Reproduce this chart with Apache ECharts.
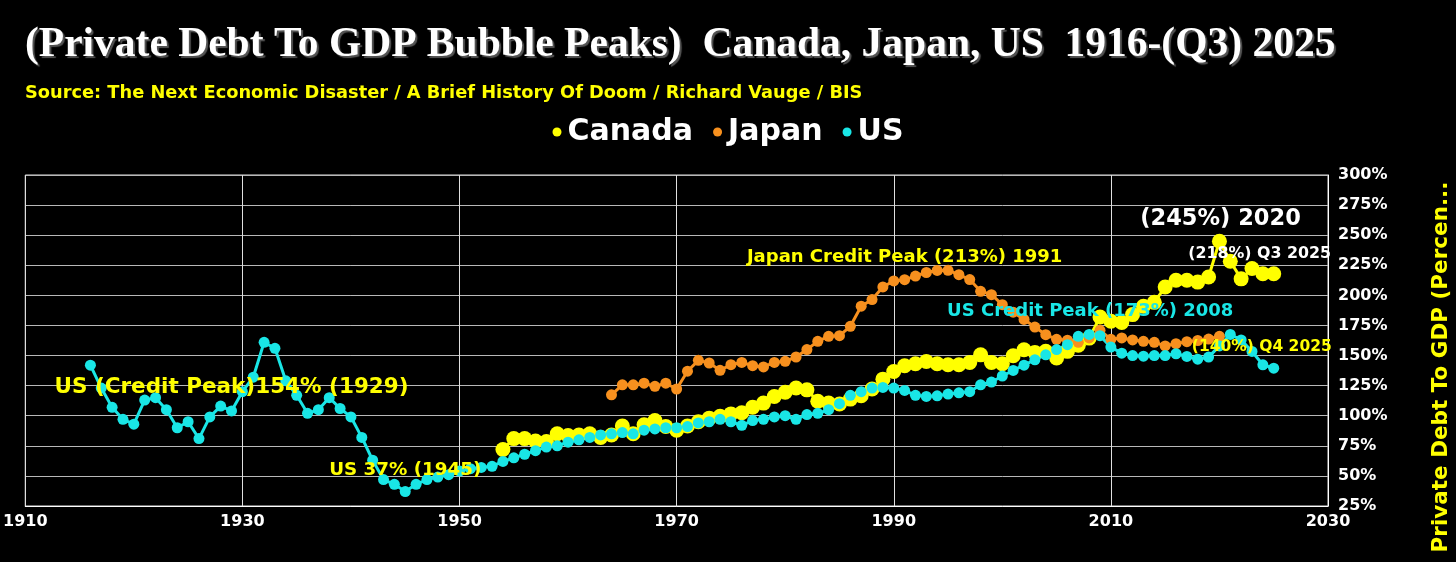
<!DOCTYPE html>
<html>
<head>
<meta charset="utf-8">
<title>Private Debt To GDP Bubble Peaks</title>
<script src="https://cdn.jsdelivr.net/npm/echarts@6/dist/echarts.min.js"></script>
<style>
  html, body { margin: 0; padding: 0; background: #000; }
  #main { width: 1456px; height: 562px; }
</style>
</head>
<body>
<div id="main"></div>
<script>
// 数据 (读自原图, 每年一个点)
var usStart = 1916;
var usValues = [142, 123, 107, 97, 93, 113, 115, 105, 90, 95,
  81, 99, 108, 104, 120, 132, 161, 156, 129, 117,
  102, 105, 115, 106, 99, 82, 63, 47, 43, 37,
  43, 47, 49, 51, 54, 56, 57, 58, 62, 65,
  68, 71, 74, 75, 78, 80, 82, 84, 85, 86,
  85, 88, 89, 90, 90, 91, 94, 95, 97, 95,
  92, 96, 97, 99, 100, 97, 101, 102, 105, 110,
  117, 120, 123, 123.5, 123, 121, 117, 116, 116.5, 118,
  119, 120, 125.7, 128, 133, 137.6, 142, 146.5, 150.6, 155,
  159, 166, 167.5, 166.5, 157, 152, 150, 149.5, 150, 150,
  151.5, 149.3, 147, 148.7, 158, 167.5, 163, 153.4, 142.3, 139.5];

var canadaStart = 1954;
var canadaValues = [72, 81, 81, 79, 78.5, 85, 83.5, 84, 85, 82,
  84, 91.5, 85, 92.5, 96, 91, 88, 91.5, 95, 98,
  99.5, 101.5, 102.5, 107, 110.5, 116, 119.5, 123, 121.5, 112,
  110.5, 109.7, 113.8, 116.6, 122.2, 130.4, 136.8, 141.5, 143.2, 145,
  143.2, 142.3, 142.3, 144.3, 150.6, 144.3, 143.2, 149.8, 154.8, 152.6,
  153.5, 148, 153.5, 158.5, 164.5, 182, 178.5, 177.5, 184, 191,
  194.2, 207, 212.5, 212.5, 211, 215.3, 245, 228.4, 213.7, 222.3,
  218, 218];

var japanStart = 1964;
var japanValues = [117.4, 125.7, 125.7, 127, 124.4, 127, 122.2, 137, 146, 143.8,
  137.7, 142.4, 144.3, 141.6, 140.5, 144.3, 145.2, 148.8, 155, 161.8,
  166, 166.5, 174.3, 191, 196.5, 207, 212, 213, 216, 219,
  220.7, 220.8, 217.2, 213.1, 203.4, 200.6, 192.3, 186, 180, 173.7,
  167.3, 163.5, 162.8, 161, 164.6, 171, 163.5, 164.6, 163, 161.8,
  161, 158, 159.9, 161.5, 162.5, 163.7, 166];

var seriesNames = ['Canada', 'Japan', 'US'];

// 图上的注释 [文字, 年, 值]
var notes = [
  ['US (Credit Peak)154% (1929)', 1929, 123.3],
  ['US 37% (1945)', 1945, 55],
  ['Japan Credit Peak (213%) 1991', 1991, 231.5],
  ['US Credit Peak (173%) 2008', 2008.1, 186.5],
  ['(245%) 2020', 2020.1, 263],
  ['(218%) Q3 2025', 2023.7, 234.8],
  ['(140%) Q4 2025', 2023.9, 157.4]
];
var noteStyles = [
  { color: '#ffff00', size: 21.5 },
  { color: '#ffff00', size: 18.3 },
  { color: '#ffff00', size: 18 },
  { color: '#19e6e6', size: 18 },
  { color: '#ffffff', size: 22.5 },
  { color: '#ffffff', size: 15.8 },
  { color: '#ffff00', size: 15.5 }
];

function pairs(start, values) {
  var out = [];
  for (var i = 0; i < values.length; i++) {
    out.push([start + i, values[i]]);
  }
  return out;
}

var sansBold = 'DejaVu Sans';
var chart = echarts.init(document.getElementById('main'));

var option = {
  backgroundColor: '#000',
  animation: false,
  //标题
  title: [{
    text: '(Private Debt To GDP Bubble Peaks)  Canada, Japan, US  1916-(Q3) 2025',
    left: 20,
    top: 19,
    textStyle: {
      color: '#fff', fontSize: 41.5, fontWeight: 'bold', fontFamily: 'Liberation Serif',
      textShadowColor: '#555', textShadowOffsetX: 2, textShadowOffsetY: 2, textShadowBlur: 1
    }
  }, {
    text: 'Source: The Next Economic Disaster / A Brief History Of Doom / Richard Vauge / BIS',
    left: 20,
    top: 79,
    textStyle: { color: '#ffff00', fontSize: 17.8, fontWeight: 'bold', fontFamily: sansBold }
  }],
  //图例
  legend: {
    data: seriesNames,
    left: 'center',
    top: 112,
    icon: 'circle',
    itemWidth: 9,
    itemHeight: 9,
    itemGap: 20,
    textStyle: { color: '#fff', fontSize: 30, fontWeight: 'bold', fontFamily: sansBold, padding: [0, 0, 0, 1] }
  },
  grid: {
    left: 25, right: 128, top: 175, bottom: 56,
    show: true, borderColor: '#e0e0e0', borderWidth: 1
  },
  xAxis: {
    type: 'value',
    min: 1910, max: 2030, interval: 20,
    axisLine: { lineStyle: { color: '#fff' } },
    axisTick: { show: false },
    splitLine: { show: true, lineStyle: { color: '#e0e0e0', width: 1 } },
    axisLabel: {
      color: '#fff', fontSize: 16, fontWeight: 'bold', fontFamily: sansBold, margin: 8,
      formatter: function (v) { return String(v); }
    }
  },
  yAxis: {
    type: 'value',
    position: 'right',
    min: 25, max: 300, interval: 25,
    axisLine: { show: true, lineStyle: { color: '#fff' } },
    axisTick: { show: false },
    splitLine: { show: true, lineStyle: { color: '#b8b8b8', width: 1 } },
    axisLabel: { color: '#fff', fontSize: 16, fontWeight: 'bold', fontFamily: sansBold, margin: 10, formatter: '{value}%' }
  },
  //数据
  series: [{
    name: 'Canada',
    type: 'line',
    data: pairs(canadaStart, canadaValues),
    symbol: 'circle',
    symbolSize: 15,
    color: '#ffff00',
    lineStyle: { width: 3 }
  }, {
    name: 'Japan',
    type: 'line',
    data: pairs(japanStart, japanValues),
    symbol: 'circle',
    symbolSize: 11,
    color: '#f7901e',
    lineStyle: { width: 3 }
  }, {
    name: 'US',
    type: 'line',
    data: pairs(usStart, usValues),
    symbol: 'circle',
    symbolSize: 11,
    color: '#19e6e6',
    lineStyle: { width: 3 }
  }]
};

chart.setOption(option);

// 注释和右侧轴名
var graphics = [];
for (var i = 0; i < notes.length; i++) {
  var p = chart.convertToPixel({ gridIndex: 0 }, [notes[i][1], notes[i][2]]);
  graphics.push({
    type: 'text',
    x: p[0], y: p[1], z: 100,
    style: {
      text: notes[i][0],
      fill: noteStyles[i].color,
      font: 'bold ' + noteStyles[i].size + 'px "DejaVu Sans"',
      textAlign: 'center',
      textVerticalAlign: 'middle'
    }
  });
}
graphics.push({
  type: 'text',
  x: 1441, y: 367, rotation: Math.PI / 2, z: 100,
  style: {
    text: 'Private Debt To GDP (Percen...',
    fill: '#ffff00',
    font: 'bold 21.5px "DejaVu Sans"',
    textAlign: 'center',
    textVerticalAlign: 'middle'
  }
});
chart.setOption({ graphic: graphics });
</script>
</body>
</html>
